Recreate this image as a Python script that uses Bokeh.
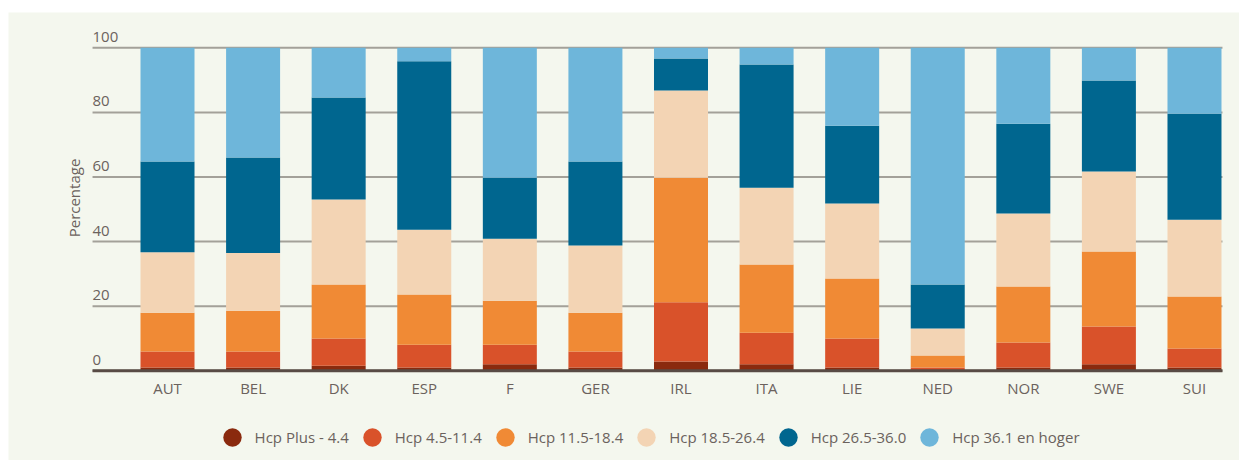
import math
from bokeh.plotting import figure
from bokeh.models import ColumnDataSource, Legend, LegendItem, Range1d
from bokeh.core.properties import value
from bokeh.embed import file_html
from bokeh.resources import INLINE

# ---- data ----
countries = ["AUT", "BEL", "DK", "ESP", "F", "GER", "IRL", "ITA", "LIE", "NED", "NOR", "SWE", "SUI"]
hcp_plus_4_4 = [1.0, 1.0, 1.6, 1.0, 2.0, 1.0, 2.9, 2.0, 1.0, 0.0, 1.0, 2.0, 1.0]
hcp_4_5_11_4 = [5.0, 5.0, 8.4, 7.1, 6.1, 5.0, 18.3, 9.8, 9.0, 1.0, 7.8, 11.7, 5.9]
hcp_11_5_18_4 = [12.0, 12.6, 16.7, 15.5, 13.6, 12.0, 38.6, 21.1, 18.6, 3.7, 17.3, 23.2, 16.1]
hcp_18_5_26_4 = [18.7, 17.9, 26.3, 20.1, 19.2, 20.8, 27.0, 23.8, 23.2, 8.4, 22.6, 24.8, 23.8]
hcp_26_5_36_0 = [28.1, 29.5, 31.6, 52.1, 18.9, 26.0, 9.9, 38.1, 24.1, 13.6, 27.8, 28.2, 32.8]
hcp_36_1_plus = [35.2, 34.0, 15.4, 4.2, 40.2, 35.2, 3.3, 5.2, 24.1, 73.3, 23.5, 10.1, 20.4]
series_labels = ["Hcp Plus - 4.4", "Hcp 4.5-11.4", "Hcp 11.5-18.4",
                 "Hcp 18.5-26.4", "Hcp 26.5-36.0", "Hcp 36.1 en hoger"]
y_ticks = [0, 20, 40, 60, 80, 100]
y_title = "Percentage"

# ---- style ----
colors = ["#8a2a0e", "#d9522a", "#f08a35", "#f3d4b4", "#00668f", "#6eb6da"]
BG = "#f4f7ee"
GRID = "#a3a199"
BASE = "#584b45"
TXT = "#6b625d"
FONT = "Open Sans"

keys = ["s0", "s1", "s2", "s3", "s4", "s5"]
xs = list(range(len(countries)))
source = ColumnDataSource(dict(x=xs, s0=hcp_plus_4_4, s1=hcp_4_5_11_4, s2=hcp_11_5_18_4,
                               s3=hcp_18_5_26_4, s4=hcp_26_5_36_0, s5=hcp_36_1_plus))

# plotting area spans the whole canvas; axes are drawn by hand
X_START, X_END = -1.858, 12.526
Y_START, Y_END = -27.77, 110.93
GRID_X0, GRID_X1 = -0.876, 12.327

p = figure(width=1231, height=448, output_backend="svg", toolbar_location=None,
           x_range=Range1d(X_START, X_END), y_range=Range1d(Y_START, Y_END),
           min_border=0, min_border_left=0, min_border_right=0,
           min_border_top=0, min_border_bottom=0,
           background_fill_color=BG, border_fill_color=BG, outline_line_color=None,
           styles={"margin-left": "8px", "margin-top": "12px"})
p.xaxis.visible = False
p.yaxis.visible = False
p.xgrid.visible = False
p.ygrid.visible = False

# grid lines
n = len(y_ticks)
p.segment(x0=[GRID_X0] * n, x1=[GRID_X1] * n, y0=y_ticks, y1=y_ticks,
          line_color=GRID, line_width=2)

# stacked bars
p.vbar_stack(keys, x="x", width=0.631, fill_color=colors, line_color=None, source=source)

# baseline
p.segment(x0=[GRID_X0], x1=[GRID_X1], y0=[0], y1=[0], line_color=BASE, line_width=3)

# y tick labels above the grid lines
p.text(x=[GRID_X0] * n, y=y_ticks, text=[str(t) for t in y_ticks],
       text_font=value(FONT), text_font_size="15px", text_color=TXT,
       text_align="left", text_baseline="alphabetic", y_offset=-11)

# y title
p.text(x=[GRID_X0], y=[53.5], text=[y_title], angle=math.pi / 2, x_offset=-19,
       text_font=value(FONT), text_font_size="15px", text_color=TXT,
       text_align="center", text_baseline="middle")

# x category labels
p.text(x=xs, y=[0] * len(xs), text=countries, y_offset=17,
       text_font=value(FONT), text_font_size="15px", text_color=TXT,
       text_align="center", text_baseline="alphabetic")

# legend with circle markers
items = []
for lab, col in zip(series_labels, colors):
    r = p.scatter(x=[float("nan")], y=[float("nan")], marker="circle", size=18,
                  fill_color=col, line_color=None)
    items.append(LegendItem(label=lab, renderers=[r]))

legend = Legend(items=items, orientation="horizontal", location=(200.6, 0),
                glyph_width=46, glyph_height=46, label_standoff=0, spacing=0,
                padding=0, margin=0, background_fill_alpha=0, border_line_color=None,
                label_text_font=FONT, label_text_font_size="15px", label_text_color=TXT)
p.add_layout(legend)

open("out.html", "w").write(file_html(p, INLINE))
